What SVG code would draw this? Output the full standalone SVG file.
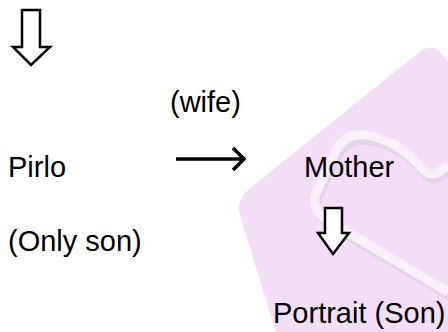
<svg xmlns="http://www.w3.org/2000/svg" width="448" height="332" viewBox="0 0 448 332">
  <style>
    .t { font-family: "Liberation Sans", Arial, sans-serif; font-size: 29px; fill: #000; }
    .hollow { fill: #fff; stroke: #000; stroke-width: 2.5; stroke-linejoin: miter; }
    .line { fill: none; stroke: #000; stroke-width: 3.5; stroke-linecap: butt; }
  </style>
  <rect width="448" height="332" fill="#fff"/>
  <g id="watermark">
    <path d="M 448,62 L 440,52 Q 432,44 422,50 L 248,190 Q 236,200 240,215 L 276,332 L 448,332 Z" fill="#f2def5"/>
    <path d="M 448,296 L 330,226 Q 310,214 316,196 L 336,154 Q 348,134 372,140 Q 400,148 418,168 Q 428,182 438,176 L 448,170" fill="none" stroke="#e6d4ea" stroke-width="6" transform="translate(3,3)"/>
    <path d="M 448,292 L 330,222 Q 310,210 316,193 L 336,150 Q 348,130 372,136 Q 400,144 418,164 Q 428,178 438,172 L 448,166" fill="none" stroke="#f9f0fa" stroke-width="9"/>
  </g>
  <g id="pirlo"><text class="t" x="8" y="177">Pirlo</text></g>
  <g id="wife-label"><text class="t" x="170" y="112">(wife)</text></g>
  <g id="only-son"><text class="t" x="8" y="251">(Only son)</text></g>
  <g id="mother"><text class="t" x="304" y="177">Mother</text></g>
  <g id="portrait"><text class="t" x="273" y="323">Portrait (Son)</text></g>
  <g id="connectors">
    <path class="hollow" d="M 22,10 L 40,10 L 40,47 L 50,47 L 31,65 L 13,47 L 22,47 Z"/>
    <line class="line" x1="176" y1="159" x2="243" y2="159"/>
    <path class="line" d="M 233,148 L 244,159 L 233,170"/>
    <path class="hollow" stroke-width="2.2" d="M 325,208 L 342,208 L 342,233 L 349,233 L 333,254 L 318,233 L 325,233 Z"/>
  </g>
</svg>
